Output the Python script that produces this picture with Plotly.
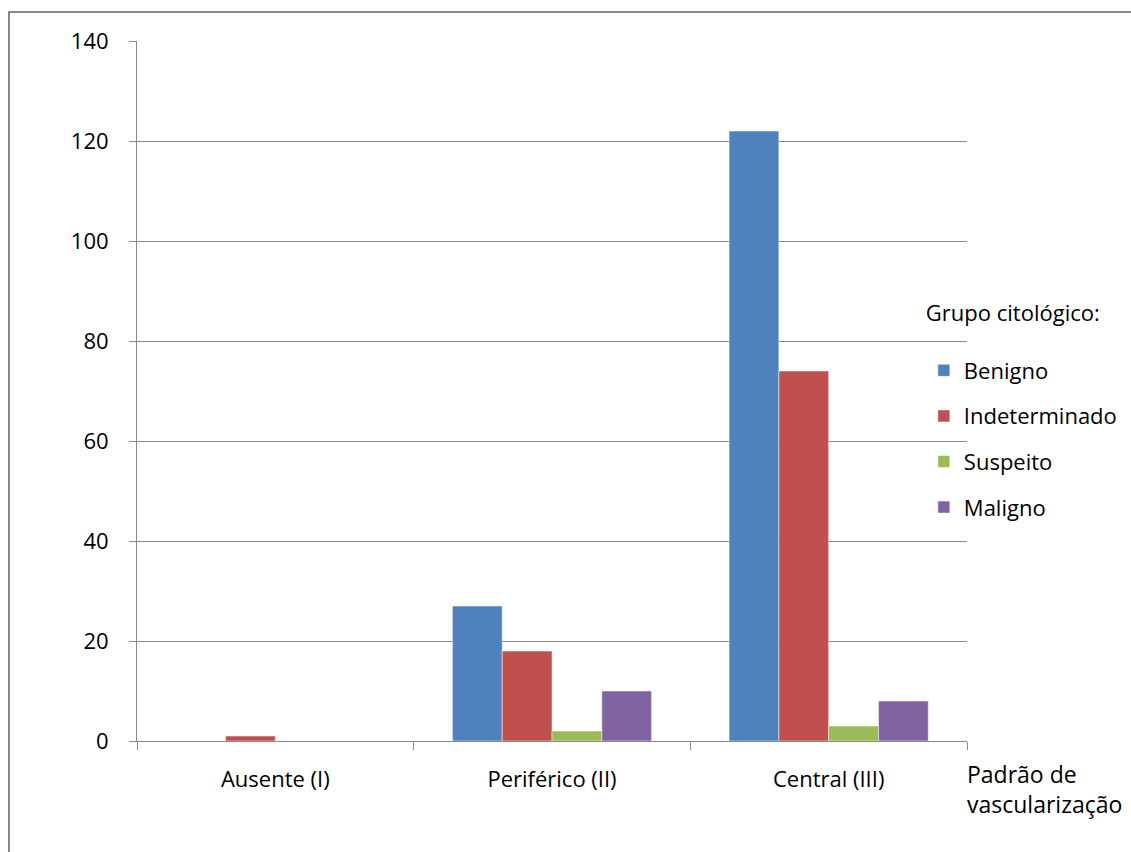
import plotly.graph_objects as go

categories = ["Ausente (I)", "Periférico (II)", "Central (III)"]
series_names = ["Benigno", "Indeterminado", "Suspeito", "Maligno"]
benigno = [0, 27, 122]
indeterminado = [1, 18, 74]
suspeito = [0, 2, 3]
maligno = [0, 10, 8]
values = [benigno, indeterminado, suspeito, maligno]
colors = ["#4F81BD", "#C0504D", "#9BBB59", "#8064A2"]
y_ticks = [0, 20, 40, 60, 80, 100, 120, 140]

FONT = "Open Sans"
fig = go.Figure()
for name, vals, col in zip(series_names, values, colors):
    fig.add_trace(go.Bar(
        x=categories, y=vals, name=name, legendgroup=name,
        marker=dict(color=col, line=dict(color="rgba(255,255,255,0.5)", width=1)),
    ))

fig.update_layout(
    width=1131, height=852,
    margin=dict(l=137, r=164, t=41, b=111, autoexpand=False),
    paper_bgcolor="white", plot_bgcolor="white",
    font=dict(family=FONT, size=22, color="#000000"),
    barmode="group", bargap=0.28, bargroupgap=0,
    legend=dict(
        title=dict(text="Grupo citológico:<br> ", font=dict(size=22)),
        x=0.948, xanchor="left", y=0.641, yanchor="top",
        xref="paper", yref="paper",
        traceorder="grouped", tracegroupgap=14,
        font=dict(size=22), bgcolor="rgba(0,0,0,0)",
    ),
    xaxis=dict(
        showline=True, linecolor="#888888", linewidth=1,
        ticks="outside", tickson="boundaries", ticklen=8, tickcolor="#888888",
        ticklabelstandoff=19, showgrid=False, tickfont=dict(size=22),
    ),
    yaxis=dict(
        range=[0, 140], tickvals=y_ticks, showline=True, linecolor="#888888",
        linewidth=1, ticks="outside", ticklen=7, tickcolor="#888888",
        showgrid=True, gridcolor="#888888", gridwidth=1, zeroline=False,
        ticklabelstandoff=16, tickfont=dict(size=22),
    ),
    shapes=[dict(type="rect", xref="paper", yref="paper",
                 x0=-0.1542, x1=1.25, y0=-0.2, y1=1.0414,
                 line=dict(color="#888888", width=2), layer="below")],
    annotations=[dict(text="Padrão de<br>vascularização", xref="paper", yref="paper",
                      x=0.998, y=-0.022, xanchor="left", yanchor="top", align="left",
                      showarrow=False, font=dict(size=23))],
)

fig.write_html("out.html")
